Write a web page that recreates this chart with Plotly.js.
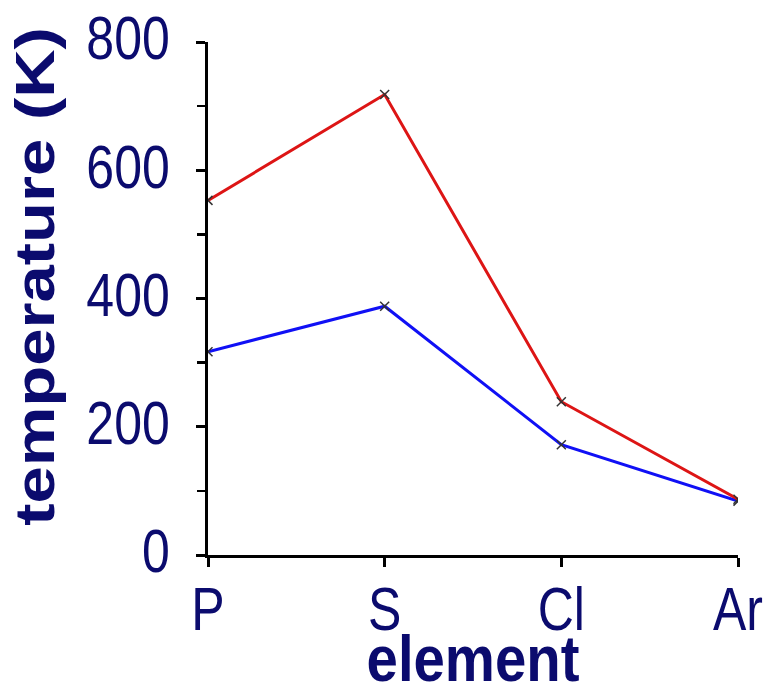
<!DOCTYPE html>
<html>
<head>
<meta charset="utf-8">
<script src="https://cdn.plot.ly/plotly-3.0.1.min.js"></script>
<style>
html,body{margin:0;padding:0;background:#fff;}
#chart{width:772px;height:689px;}
</style>
</head>
<body>
<div id="chart"></div>
<script>
const elements = ["P", "S", "Cl", "Ar"];
const boilingPoints = [553, 718, 239, 87];
const meltingPoints = [317, 388, 172, 84];
const yTickValues = [0, 200, 400, 600, 800];

const navy = "#0b0b6e";
const font = "Liberation Sans, Arial, sans-serif";

const markerStyle = {symbol: "x-thin", size: 9, line: {color: "#333", width: 1.5}};

const traces = [
  {
    x: elements, y: meltingPoints, type: "scatter", mode: "lines+markers",
    line: {color: "#1010f5", width: 3},
    marker: markerStyle,
    showlegend: false, hoverinfo: "none"
  },
  {
    x: elements, y: boilingPoints, type: "scatter", mode: "lines+markers",
    line: {color: "#dd1515", width: 3},
    marker: markerStyle,
    showlegend: false, hoverinfo: "none"
  }
];

const layout = {
  width: 772, height: 689,
  margin: {l: 208, r: 34, t: 42, b: 134},
  paper_bgcolor: "#fff", plot_bgcolor: "#fff",
  font: {family: font, color: navy},
  xaxis: {
    type: "category", range: [0, 3],
    showgrid: false, zeroline: false,
    showline: true, linecolor: "#000", linewidth: 3,
    ticks: "outside", ticklen: 9, tickwidth: 3, tickcolor: "#000",
    tickfont: {size: 61, color: navy, family: font},
    ticklabelstandoff: -10,
    title: {text: "<b>element</b>", font: {size: 64, color: navy, family: font}, standoff: 12}
  },
  yaxis: {
    range: [0, 800],
    tickvals: yTickValues,
    ticktext: yTickValues.map(String),
    showgrid: false, zeroline: false,
    showline: true, linecolor: "#000", linewidth: 3,
    ticks: "outside", ticklen: 9, tickwidth: 3, tickcolor: "#000",
    minor: {dtick: 100, tick0: 0, ticks: "outside", ticklen: 8, tickwidth: 2.5, tickcolor: "#000", showgrid: false},
    tickfont: {size: 61, color: navy, family: font},
    ticklabelstandoff: 14,
    title: {text: "<b>temperature (K)</b>", font: {size: 67, color: navy, family: font}, standoff: 12}
  }
};

// The reference's lettering is condensed horizontally (about 82% width).
function squeezeX(el, s, anchor, dx, dy) {
  const b = el.getBBox();
  const ax = anchor === "end" ? b.x + b.width : b.x + b.width / 2;
  const orig = el.getAttribute("transform") || "";
  el.setAttribute("transform",
    "translate(" + (dx || 0) + "," + (dy || 0) + ") " + orig +
    " translate(" + ax + ",0) scale(" + s + ",1) translate(" + (-ax) + ",0)");
}

Plotly.newPlot("chart", traces, layout, {staticPlot: true, displayModeBar: false}).then(function (gd) {
  gd.querySelectorAll(".ytick text").forEach(function (t) { squeezeX(t, 0.82, "end", 0, -4); });
  gd.querySelectorAll(".xtick text").forEach(function (t) { squeezeX(t, 0.82, "middle", 0, 0); });
  const xt = gd.querySelector(".xtitle");
  if (xt) squeezeX(xt, 0.88, "middle", 0, 6);
  const yt = gd.querySelector(".ytitle");
  if (yt) {
    // rotated title: condense its thickness (local y), and lift it a little
    const b = yt.getBBox();
    const ay = b.y + b.height / 2;
    const orig = yt.getAttribute("transform") || "";
    yt.setAttribute("transform",
      "translate(-3,-22) " + orig + " translate(0," + ay + ") scale(1,0.82) translate(0," + (-ay) + ")");
  }
});
</script>
</body>
</html>
